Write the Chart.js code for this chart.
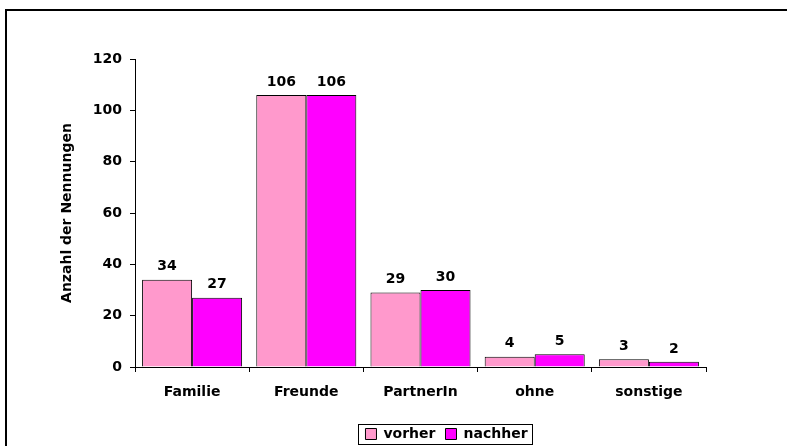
<!DOCTYPE html>
<html>
<head>
<meta charset="utf-8">
<script src="https://cdn.jsdelivr.net/npm/chart.js@4/dist/chart.umd.min.js"></script>
<style>
  html, body { margin: 0; padding: 0; background: #fff; }
  #wrap { width: 787px; height: 446px; position: relative; }
</style>
</head>
<body>
<div id="wrap"><canvas id="c" width="787" height="446"></canvas></div>
<script>
const categories = ["Familie", "Freunde", "PartnerIn", "ohne", "sonstige"];
const vorher = [34, 106, 29, 4, 3];
const nachher = [27, 106, 30, 5, 2];
const seriesNames = ["vorher", "nachher"];
const yTicks = [0, 20, 40, 60, 80, 100, 120];
const yTitle = "Anzahl der Nennungen";

const FONT = "'DejaVu Sans', sans-serif";

const framePlugin = {
  id: 'frame',
  beforeDraw(chart) {
    const ctx = chart.ctx;
    ctx.save();
    ctx.fillStyle = '#fff';
    ctx.fillRect(0, 0, chart.width, chart.height);
    ctx.strokeStyle = '#000';
    ctx.lineWidth = 2;
    ctx.beginPath();
    ctx.moveTo(6, chart.height);
    ctx.lineTo(6, 10);
    ctx.lineTo(chart.width, 10);
    ctx.stroke();
    ctx.restore();
  }
};

const legendPlace = {
  id: 'legendPlace',
  afterLayout(chart) {
    const lg = chart.legend;
    if (!lg) return;
    const cx = 446.5, cy = 434;
    const pad = lg.options.labels.padding;
    const w = lg.right - lg.left, h = lg.bottom - lg.top;
    lg.left = cx - w / 2; lg.right = lg.left + w;
    lg.top = cy - pad - 7; lg.bottom = lg.top + h;
  },
  afterDraw(chart) {
    const lg = chart.legend;
    if (!lg || !lg.lineWidths) return;
    const ctx = chart.ctx;
    const lw = lg.lineWidths[0];
    const cx = (lg.left + lg.right) / 2;
    ctx.save();
    ctx.strokeStyle = '#000';
    ctx.lineWidth = 1;
    ctx.strokeRect(Math.round(cx - lw / 2 - 2) + 0.5, 424.5, Math.round(lw + 2), 20);
    ctx.restore();
  }
};

const valueLabels = {
  id: 'valueLabels',
  afterDatasetsDraw(chart) {
    const ctx = chart.ctx;
    ctx.save();
    ctx.font = "bold 14px " + FONT;
    ctx.fillStyle = '#000';
    ctx.textAlign = 'center';
    ctx.textBaseline = 'bottom';
    chart.data.datasets.forEach((ds, i) => {
      chart.getDatasetMeta(i).data.forEach((bar, j) => {
        ctx.fillText(String(ds.data[j]), bar.x, bar.y - 6);
      });
    });
    ctx.restore();
  }
};

new Chart(document.getElementById('c'), {
  type: 'bar',
  data: {
    labels: categories,
    datasets: [
      { label: seriesNames[0], data: vorher, backgroundColor: '#FF99CC', borderColor: '#000', borderWidth: 1 },
      { label: seriesNames[1], data: nachher, backgroundColor: '#FF00FF', borderColor: '#000', borderWidth: 1 }
    ]
  },
  options: {
    responsive: false,
    animation: false,
    devicePixelRatio: 1,
    layout: { padding: { left: 0, top: 59, right: 81, bottom: 0 } },
    datasets: { bar: { categoryPercentage: 0.876, barPercentage: 1.0 } },
    plugins: {
      tooltip: { enabled: false },
      legend: {
        position: 'bottom',
        labels: {
          font: { family: FONT, size: 14, weight: 'bold' },
          color: '#000',
          boxWidth: 11,
          boxHeight: 11,
          padding: 10
        }
      }
    },
    scales: {
      x: {
        offset: true,
        grid: { offset: true, drawOnChartArea: false, drawTicks: true, tickLength: 5, color: '#000' },
        border: { color: '#000', width: 1 },
        ticks: { font: { family: FONT, size: 14, weight: 'bold' }, color: '#000', padding: 12, maxRotation: 0 },
        afterFit(s) { s.height = 45; }
      },
      y: {
        min: 0, max: 120,
        afterBuildTicks(s) { s.ticks = yTicks.map(v => ({ value: v })); },
        grid: { drawOnChartArea: false, drawTicks: true, tickLength: 5, color: '#000' },
        border: { color: '#000', width: 1 },
        ticks: { font: { family: FONT, size: 14, weight: 'bold' }, color: '#000', padding: 8 },
        title: { display: true, text: yTitle, font: { family: FONT, size: 14, weight: 'bold' }, color: '#000', padding: { top: 59, bottom: 0 } },
        afterFit(s) { s.width = 135; }
      }
    }
  },
  plugins: [framePlugin, legendPlace, valueLabels]
});
</script>
</body>
</html>
